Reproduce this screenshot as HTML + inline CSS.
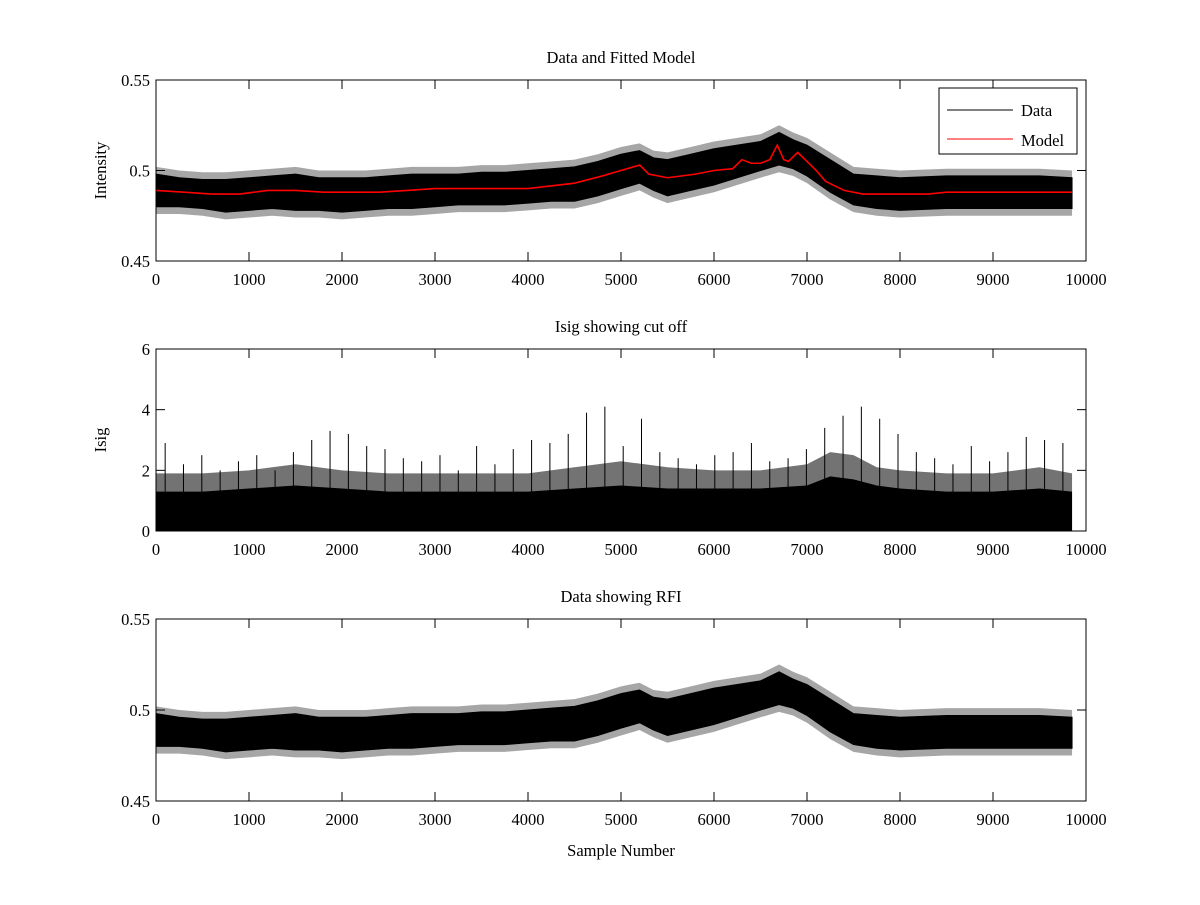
<!DOCTYPE html>
<html><head><meta charset="utf-8"><style>
body{margin:0;background:#fff;font-family:"Liberation Serif",serif}
svg text{font-family:"Liberation Serif",serif;font-size:16.5px;fill:#000}
</style></head><body>
<svg id="c" width="1200" height="900"></svg>
<script>
// data
const sampleX = [0,250,500,750,1000,1250,1500,1750,2000,2250,2500,2750,3000,3250,3500,3750,4000,4250,4500,4750,5000,5200,5350,5500,5750,6000,6250,6500,6700,6850,7000,7250,7500,7750,8000,8500,9000,9500,9850];
const dataMean = [0.488,0.488,0.487,0.486,0.487,0.488,0.488,0.487,0.486,0.487,0.488,0.488,0.489,0.489,0.490,0.490,0.491,0.492,0.493,0.496,0.500,0.502,0.498,0.496,0.499,0.502,0.505,0.508,0.512,0.509,0.505,0.497,0.490,0.488,0.487,0.488,0.488,0.488,0.488];
const dataUpper = [0.498,0.496,0.495,0.495,0.496,0.497,0.498,0.496,0.496,0.496,0.497,0.498,0.498,0.498,0.499,0.499,0.500,0.501,0.502,0.505,0.509,0.511,0.507,0.506,0.509,0.512,0.514,0.516,0.521,0.517,0.514,0.506,0.498,0.497,0.496,0.497,0.497,0.497,0.496];
const dataLower = [0.480,0.480,0.479,0.477,0.478,0.479,0.478,0.478,0.477,0.478,0.479,0.479,0.480,0.481,0.481,0.481,0.482,0.483,0.483,0.486,0.490,0.493,0.489,0.486,0.489,0.492,0.496,0.500,0.503,0.501,0.497,0.488,0.481,0.479,0.478,0.479,0.479,0.479,0.479];
const modelX = [0,300,600,900,1200,1500,1800,2100,2400,2700,3000,3500,4000,4500,4800,5000,5200,5300,5500,5800,6000,6200,6300,6400,6500,6600,6680,6750,6800,6900,7000,7100,7200,7400,7600,8000,8300,8500,9000,9850];
const modelY = [0.489,0.488,0.487,0.487,0.489,0.489,0.488,0.488,0.488,0.489,0.490,0.490,0.490,0.493,0.497,0.500,0.503,0.498,0.496,0.498,0.500,0.501,0.506,0.504,0.504,0.506,0.514,0.506,0.505,0.510,0.505,0.500,0.494,0.489,0.487,0.487,0.487,0.488,0.488,0.488];
const isigX = [0,500,1000,1500,2000,2500,3000,3500,4000,4500,5000,5500,6000,6500,7000,7250,7500,7750,8000,8500,9000,9500,9850];
const isigSolid = [1.3,1.3,1.4,1.5,1.4,1.3,1.3,1.3,1.3,1.4,1.5,1.4,1.4,1.4,1.5,1.8,1.7,1.5,1.4,1.3,1.3,1.4,1.3];
const isigDense = [1.9,1.9,2.0,2.2,2.0,1.9,1.9,1.9,1.9,2.1,2.3,2.1,2.0,2.0,2.2,2.6,2.5,2.1,2.0,1.9,1.9,2.1,1.9];
const isigSpikes = [2.9,2.2,2.5,2.0,2.3,2.5,2.0,2.6,3.0,3.3,3.2,2.8,2.7,2.4,2.3,2.5,2.0,2.8,2.2,2.7,3.0,2.9,3.2,3.9,4.1,2.8,3.7,2.6,2.4,2.2,2.5,2.6,2.9,2.3,2.4,2.7,3.4,3.8,4.1,3.7,3.2,2.6,2.4,2.2,2.8,2.3,2.6,3.1,3.0,2.9];
const xTicks = [0,1000,2000,3000,4000,5000,6000,7000,8000,9000,10000];
const intensityTicks = [0.45,0.5,0.55];
const isigTicks = [0,2,4,6];

const NS='http://www.w3.org/2000/svg';
const svg=document.getElementById('c');
function mk(t,a,p){const e=document.createElementNS(NS,t);for(const k in a)e.setAttribute(k,a[k]);(p||svg).appendChild(e);return e;}
const L=156,R=1086;
const sx=v=>L+v/10000*(R-L);
function axes(name,top,bot,ymin,ymax,yt,title,ylabel){
  const g=mk('g',{});
  
  
  const sy=v=>bot-(v-ymin)/(ymax-ymin)*(bot-top);
  return {g,sy,top,bot,yt,title,ylabel,ymin,ymax};
}
function frame(A){
  const {g,sy,top,bot,yt}=A;
  mk('rect',{x:L,y:top,width:R-L,height:bot-top,fill:'none',stroke:'#000','stroke-width':1},g);
  xTicks.forEach(v=>{const x=sx(v);
    mk('line',{x1:x,x2:x,y1:bot,y2:bot-9,stroke:'#000'},g);
    mk('line',{x1:x,x2:x,y1:top,y2:top+9,stroke:'#000'},g);
    const t=mk('text',{x:x,y:bot+24,'text-anchor':'middle'},g);t.textContent=v;
    
    });
  yt.forEach(v=>{const y=sy(v);
    mk('line',{x1:L,x2:L+9,y1:y,y2:y,stroke:'#000'},g);
    mk('line',{x1:R,x2:R-9,y1:y,y2:y,stroke:'#000'},g);
    const t=mk('text',{x:L-6,y:y+6,'text-anchor':'end'},g);t.textContent=String(v);
    
    });
  const tt=mk('text',{x:(L+R)/2,y:top-17,'text-anchor':'middle'},g);tt.textContent=A.title;
  
  
  if(A.ylabel){const yl=mk('text',{x:0,y:0,'text-anchor':'middle',transform:`translate(${L-50},${(top+bot)/2}) rotate(-90)`},g);yl.textContent=A.ylabel;
    
    }
}
function band(A,name){
  let d='M'+sampleX.map((x,i)=>sx(x)+','+A.sy(dataUpper[i])).join('L');
  for(let i=sampleX.length-1;i>=0;i--)d+='L'+sx(sampleX[i])+','+A.sy(dataLower[i]);
  const p=mk('path',{d:d+'Z',fill:'#000',stroke:'#000','stroke-width':1},A.g);
  
  
  // fringe of noise spikes
  let d2='M'+sampleX.map((x,i)=>sx(x)+','+A.sy(dataUpper[i]+0.004)).join('L');
  for(let i=sampleX.length-1;i>=0;i--)d2+='L'+sx(sampleX[i])+','+A.sy(dataLower[i]-0.004);
  const f=mk('path',{d:d2+'Z',fill:'#000','fill-opacity':0.35},A.g);
  
  
}
// top
const A1=axes('data-and-model-plot',80,261,0.45,0.55,intensityTicks,'Data and Fitted Model','Intensity');
band(A1,'data-series');
const m=mk('polyline',{points:modelX.map((x,i)=>sx(x)+','+A1.sy(modelY[i])).join(' '),fill:'none',stroke:'#f00','stroke-width':1.6},A1.g);


frame(A1);
const lg=mk('g',{});


mk('rect',{x:939,y:88,width:138,height:66,fill:'#fff',stroke:'#000'},lg);
mk('line',{x1:947,x2:1013,y1:110,y2:110,stroke:'#000'},lg);
mk('line',{x1:947,x2:1013,y1:139,y2:139,stroke:'#f00'},lg);
let t=mk('text',{x:1021,y:116},lg);t.textContent='Data';
t=mk('text',{x:1021,y:146},lg);t.textContent='Model';
// middle
const A2=axes('isig-plot',349,531,0,6,isigTicks,'Isig showing cut off','Isig');
let dd='M'+sx(isigX[0])+','+A2.sy(0)+'L'+isigX.map((x,i)=>sx(x)+','+A2.sy(isigDense[i])).join('L')+'L'+sx(isigX[isigX.length-1])+','+A2.sy(0)+'Z';
const dp=mk('path',{d:dd,fill:'#000','fill-opacity':0.55},A2.g);


let d='M'+sx(isigX[0])+','+A2.sy(0)+'L'+isigX.map((x,i)=>sx(x)+','+A2.sy(isigSolid[i])).join('L')+'L'+sx(isigX[isigX.length-1])+','+A2.sy(0)+'Z';
const ip=mk('path',{d:d,fill:'#000'},A2.g);


isigSpikes.forEach((v,i)=>{const x=sx(9850*(i+0.5)/isigSpikes.length);
  const s=mk('line',{x1:x,x2:x,y1:A2.sy(0),y2:A2.sy(v),stroke:'#000','stroke-width':1},A2.g);
  
  });
frame(A2);
// bottom
const A3=axes('rfi-plot',619,801,0.45,0.55,intensityTicks,'Data showing RFI','');
band(A3,'rfi-data-series');
frame(A3);
t=mk('text',{x:(L+R)/2,y:856,'text-anchor':'middle'});t.textContent='Sample Number';


</script>
</body></html>
